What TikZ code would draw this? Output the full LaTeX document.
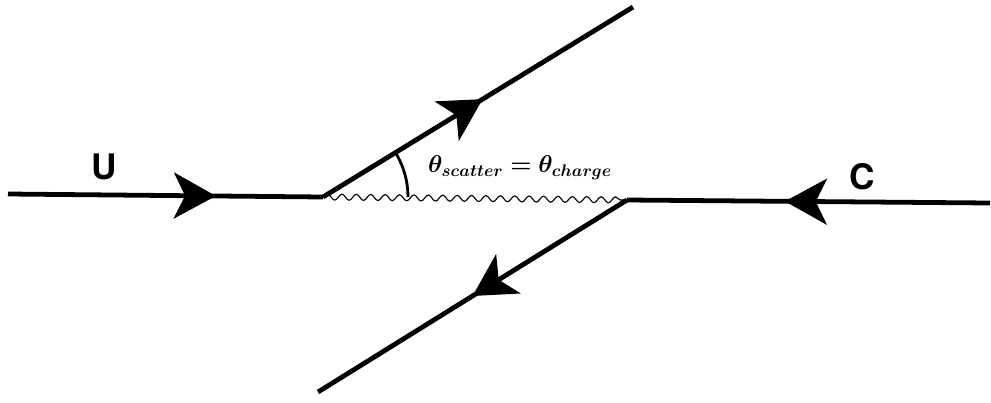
\documentclass[tikz,border=0pt]{standalone}
\usepackage{amsmath,bm}
\usepackage{fontspec}
\newfontfamily\herosfont{TeX Gyre Heros}
\usetikzlibrary{arrows.meta,decorations.markings,decorations.pathmorphing,calc}
\begin{document}
\begin{tikzpicture}[x=0.025cm,y=-0.025cm,
  fermion/.style={line width=3.4pt,line cap=butt},
  tip/.style={postaction={decorate,decoration={markings,
     mark=at position #1 with {\arrow{Stealth[length=1.05cm,width=1.15cm,inset=0.28cm]}}}}},
  photon/.style={line width=0.8pt,decorate,decoration={snake,amplitude=0.075cm,segment length=0.36cm}},
  lbl/.style={font=\herosfont\bfseries\fontsize{25}{28}\selectfont}]
\useasboundingbox (0,0) rectangle (991,402);
\coordinate (A) at (8,194);
\coordinate (V1) at (323,197);
\coordinate (B) at (633,7);
\coordinate (V2) at (627,200);
\coordinate (D) at (318,392);
\coordinate (E) at (990,203);
\draw[fermion,tip=0.66] (A) -- (V1);
\draw[fermion,tip=0.515] (V1) -- (B);
\draw[fermion,tip=0.565] (E) -- (V2);
\draw[fermion,tip=0.50] (V2) -- (D);
\draw[photon] (V1) -- (V2);
\draw[line width=2pt] ($(V1)+(85,0)$) arc[start angle=0,end angle=31.5,radius=2.125cm];
\node[lbl] (U) at (104,167) {U};
\node[lbl] (C) at (862,177) {C};
\node (T) at (520,168) {\fontsize{16.5}{18}\selectfont$\bm{\theta_{scatter}=\theta_{charge}}$};
\end{tikzpicture}
\end{document}
